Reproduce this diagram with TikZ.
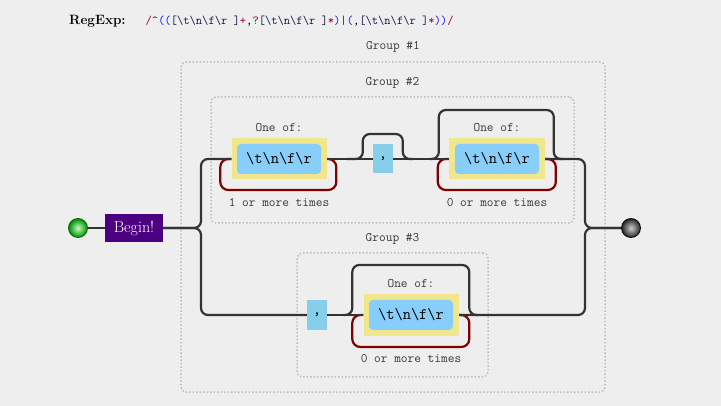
\documentclass[tikz,border=0pt]{standalone}
\usepackage{fontspec}
\usetikzlibrary{backgrounds}
\definecolor{bgcol}{RGB}{238,238,238}
\definecolor{railcol}{RGB}{51,51,51}
\definecolor{loopcol}{RGB}{128,0,0}
\definecolor{khaki}{RGB}{240,230,140}
\definecolor{litblue}{RGB}{135,206,250}
\definecolor{skyblue}{RGB}{135,206,235}
\definecolor{indigo}{RGB}{75,0,130}
\definecolor{grpcol}{RGB}{190,190,190}
\definecolor{rxnavy}{RGB}{20,20,70}
\definecolor{rxred}{RGB}{140,0,40}
\newcommand\rxbs{\textbackslash}
\newcommand\rxcls{\textcolor{rxnavy}{[\rxbs t\rxbs n\rxbs f\rxbs r\ ]}}
\newcommand\rxgrp[1]{\textcolor{blue}{#1}}
\newcommand\rxq[1]{\textcolor{rxred}{#1}}
\tikzset{
  rail/.style={draw=railcol,line width=2.2pt,rounded corners=7pt},
  repeat/.style={draw=loopcol,line width=2.2pt,rounded corners=8pt},
  grp/.style={draw=grpcol,line width=1.5pt,dash pattern=on 1.5pt off 2pt,rounded corners=5pt,inner sep=0pt},
  lbl/.style={font=\fontsize{13}{15}\selectfont\ttfamily,text=black!78,inner sep=0pt},
  oneof/.style={fill=khaki,minimum width=95pt,minimum height=41pt,inner sep=0pt},
  charset/.style={fill=litblue,rounded corners=4pt,minimum width=84pt,minimum height=30pt,inner sep=0pt,font=\fontsize{16}{18}\selectfont\ttfamily},
  literal/.style={fill=skyblue,minimum width=20pt,minimum height=29pt,inner sep=0pt,font=\fontsize{16}{18}\selectfont\ttfamily},
  ball/.style={circle,minimum size=19pt,inner sep=0pt,line width=0.8pt},
}
\begin{document}
\begin{tikzpicture}[x=1pt,y=-1pt]
\useasboundingbox (0,0) rectangle (721,406);
% title
\node[anchor=west,inner sep=0pt] (title) at (69,21) {{\rmfamily\bfseries\fontsize{13.5}{16}\selectfont RegExp:}\hspace{20pt}{\ttfamily\fontsize{12.2}{14}\selectfont\rxq{/}\textcolor{rxnavy}{\textasciicircum}\rxgrp{((}\rxcls\rxq{+},\rxq{?}\rxcls\rxq{*}\rxgrp{)|(},\rxcls\rxq{*}\rxgrp{))}\rxq{/}}};
% start and end
\node[ball,draw=green!40!black,inner color=green!25!white,outer color=green!55!black] (start) at (78,228) {};
\node[fill=indigo,text=white,minimum width=58pt,minimum height=28pt,inner sep=0pt,font=\fontsize{16}{18}\selectfont] (begin) at (134,228) {Begin!};
\node[ball,draw=black,inner color=gray!40!white,outer color=black!85] (finish) at (631,228) {};
\coordinate (split) at (201,228);
\coordinate (merge) at (585,228);
% group 2
\node[oneof] (one1) at (279,159) {};
\node[charset] (set1) at (one1) {\rxbs t\rxbs n\rxbs f\rxbs r};
\node[lbl,anchor=south] at ([yshift=6pt]one1.north) {One of:};
\node[lbl,anchor=north] at ([yshift=-19pt]one1.south) {1 or more times};
\node[literal] (comma1) at (383,159) {,};
\node[oneof,minimum width=96pt] (one3) at (497,159) {};
\node[charset] (set3) at (one3) {\rxbs t\rxbs n\rxbs f\rxbs r};
\node[lbl,anchor=south] at ([yshift=6pt]one3.north) {One of:};
\node[lbl,anchor=north] at ([yshift=-19pt]one3.south) {0 or more times};
% group 3
\node[literal,minimum height=30pt] (comma2) at (317,315) {,};
\node[oneof,minimum height=42pt] (one4) at (411,315) {};
\node[charset] (set4) at (one4) {\rxbs t\rxbs n\rxbs f\rxbs r};
\node[lbl,anchor=south] at ([yshift=6pt]one4.north) {One of:};
\node[lbl,anchor=north] at ([yshift=-18pt]one4.south) {0 or more times};
\begin{pgfonlayer}{background}
\fill[bgcol] (0,0) rectangle (721,406);
\node[grp,minimum width=424pt,minimum height=330pt] (g1) at (393,227) {};
\node[grp,minimum width=363pt,minimum height=126pt] (g2) at (392.5,160) {};
\node[grp,minimum width=191pt,minimum height=124pt] (g3) at (392.5,315) {};
\node[lbl] at ([yshift=14pt]g1.north) {Group \#1};
\node[lbl] at ([yshift=13pt]g2.north) {Group \#2};
\node[lbl] at ([yshift=13pt]g3.north) {Group \#3};
% repeat loops
\draw[repeat] (one1.west) -- ++(-11,0) -- ++(0,31) -- ++(116,0) -- ++(0,-31) -- (one1.east);
\draw[repeat] (one3.west) -- ++(-11,0) -- ++(0,31) -- ++(118,0) -- ++(0,-31) -- (one3.east);
\draw[repeat] (one4.west) -- ++(-11,0) -- ++(0,32) -- ++(117,0) -- ++(0,-32) -- (one4.east);
% skips
\draw[rail] ([xshift=-26pt]comma1.west) -- ++(16,0) -- ++(0,-25) -- ++(40,0) -- ++(0,25) -- ++(10,0);
\draw[rail] ([xshift=-19pt]one3.west) -- ++(9,0) -- ++(0,-49) -- ++(115,0) -- ++(0,49) -- ++(9,0);
\draw[rail] ([xshift=-20pt]one4.west) -- ++(9,0) -- ++(0,-50) -- ++(117,0) -- ++(0,50) -- ++(9,0);
% rails
\draw[rail] (start) -- (begin);
\draw[rail] (begin.east) -- (split) |- (one1.west);
\draw[rail] (begin.east) -- (split) |- (comma2.west);
\draw[rail] (one1.east) -- (comma1.west);
\draw[rail] (comma1.east) -- (one3.west);
\draw[rail] (one3.east) -| (merge) -- (finish.west);
\draw[rail] (comma2.east) -- (one4.west);
\draw[rail] (one4.east) -| (merge) -- (finish.west);
\end{pgfonlayer}
\end{tikzpicture}
\end{document}
